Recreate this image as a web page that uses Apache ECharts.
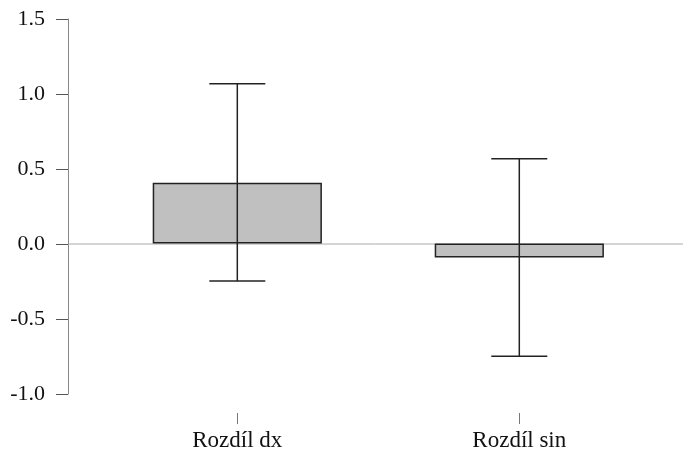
<!DOCTYPE html>
<html>
<head>
<meta charset="utf-8">
<script src="https://cdn.jsdelivr.net/npm/echarts@6/dist/echarts.min.js"></script>
<style>
  html, body { margin: 0; padding: 0; background: #fff; }
  #chart { width: 683px; height: 452px; }
</style>
</head>
<body>
<div id="chart"></div>
<script>
// Mean differences with their confidence intervals
const categories = ['Rozdíl dx', 'Rozdíl sin'];
const means = [0.405, -0.095];
const ciLower = [-0.252, -0.755];
const ciUpper = [1.067, 0.566];
const yTicks = [-1.0, -0.5, 0.0, 0.5, 1.0, 1.5];

const FONT = "'Liberation Serif', 'Times New Roman', serif";
const yMin = yTicks[0], yMax = yTicks[yTicks.length - 1];

const chart = echarts.init(document.getElementById('chart'));

const errorData = categories.map((c, i) => [i, ciLower[i], ciUpper[i]]);

chart.setOption({
  animation: false,
  backgroundColor: '#fff',
  grid: [
    // outer frame: carries the visible y axis and the zero reference line
    { left: 68, right: 0, top: 19, bottom: 58 },
    // inner frame: carries the bars and intervals
    { left: 96.3, right: 22.7, top: 19, bottom: 58 }
  ],
  xAxis: [
    { gridIndex: 0, type: 'value', min: 0, max: 1, show: false },
    {
      gridIndex: 1, type: 'category', data: categories, offset: 20,
      axisLine: { show: false, onZero: false },
      axisTick: { show: true, alignWithLabel: true, length: 11, lineStyle: { color: '#777', width: 1 } },
      axisLabel: { color: '#111', fontFamily: FONT, fontSize: 23, margin: 16 }
    }
  ],
  yAxis: [
    {
      gridIndex: 0, type: 'value', min: yMin, max: yMax, interval: 0.5,
      axisLine: { show: true, lineStyle: { color: '#888', width: 1 } },
      axisTick: { show: true, length: 12, lineStyle: { color: '#555', width: 1 } },
      axisLabel: { color: '#111', fontFamily: FONT, fontSize: 22, margin: 23,
                   formatter: v => v.toFixed(1) },
      splitLine: { show: false }
    },
    { gridIndex: 1, type: 'value', min: yMin, max: yMax, interval: 0.5, show: false, splitLine: { show: false } }
  ],
  series: [
    {
      type: 'line', xAxisIndex: 0, yAxisIndex: 0, z: 1,
      data: [[0, 0], [1, 0]], symbol: 'none',
      lineStyle: { color: '#aaa', width: 1 }
    },
    {
      type: 'bar', xAxisIndex: 1, yAxisIndex: 1, z: 2,
      data: means, barWidth: '60%',
      itemStyle: { color: '#c0c0c0', borderColor: '#222', borderWidth: 1.5 }
    },
    {
      type: 'custom', xAxisIndex: 1, yAxisIndex: 1, z: 3,
      data: errorData,
      renderItem: function (params, api) {
        const lo = api.coord([api.value(0), api.value(1)]);
        const hi = api.coord([api.value(0), api.value(2)]);
        const half = 28;
        const style = { stroke: '#222', lineWidth: 1.5 };
        return {
          type: 'group',
          children: [
            { type: 'line', shape: { x1: hi[0], y1: hi[1], x2: lo[0], y2: lo[1] }, style },
            { type: 'line', shape: { x1: hi[0] - half, y1: hi[1], x2: hi[0] + half, y2: hi[1] }, style },
            { type: 'line', shape: { x1: lo[0] - half, y1: lo[1], x2: lo[0] + half, y2: lo[1] }, style }
          ]
        };
      }
    }
  ]
});
</script>
</body>
</html>
